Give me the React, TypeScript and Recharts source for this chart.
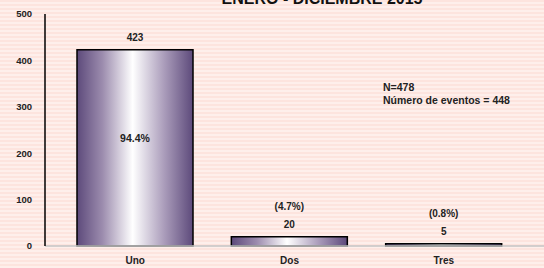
import { Bar, BarChart, LabelList, XAxis, YAxis } from "recharts";

const categories = ["Uno", "Dos", "Tres"];
const counts = [423, 20, 5];
const shares = ["94.4%", "(4.7%)", "(0.8%)"];
const yTicks = [0, 100, 200, 300, 400, 500];

const data = categories.map((name, i) => ({ name, value: counts[i] }));

const font = "'Liberation Sans', Arial, sans-serif";

function ValueLabel(props: any) {
  const { x, y, width, height, value, index } = props;
  const cx = x + width / 2;
  const top = y - 9;
  const inside = index === 0;
  return (
    <g fontFamily={font} fontWeight="bold" fill="#222" textAnchor="middle">
      <text x={cx} y={top} fontSize={10}>
        {value}
      </text>
      {inside ? (
        <text x={cx} y={y + height * 0.45 + 4} fontSize={10.5}>
          {shares[index]}
        </text>
      ) : (
        <text x={cx} y={top - 18} fontSize={10}>
          {shares[index]}
        </text>
      )}
    </g>
  );
}

export default function App() {
  return (
    <div
      style={{
        position: "absolute",
        left: 0,
        top: 0,
        width: 544,
        height: 268,
        overflow: "hidden",
        background: "repeating-linear-gradient(180deg, #fde4de 0px, #fde4de 2px, #feefeb 2px, #feefeb 4px)",
      }}
    >
      <BarChart width={544} height={268} data={data} margin={{ top: 14, right: 0, bottom: 0, left: 0 }}>
        <defs>
          <linearGradient id="barFill" x1="0" y1="0" x2="1" y2="0">
            <stop offset="0%" stopColor="#5d4a7b" />
            <stop offset="22%" stopColor="#9c8cae" />
            <stop offset="48%" stopColor="#ffffff" />
            <stop offset="75%" stopColor="#ab9dbb" />
            <stop offset="100%" stopColor="#5d4a7b" />
          </linearGradient>
        </defs>
        <text x={322} y={4} textAnchor="middle" fontFamily={font} fontWeight="bold" fontSize={16} fill="#111">
          ENERO - DICIEMBRE 2015
        </text>
        <XAxis
          dataKey="name"
          height={22}
          padding={{ left: 13, right: 23 }}
          tickLine={false}
          tickSize={0}
          tickMargin={11}
          axisLine={{ stroke: "#c4c4c4", strokeWidth: 1.5 }}
          tick={{ fontFamily: font, fontWeight: "bold", fontSize: 10, fill: "#222" }}
        />
        <YAxis
          width={45}
          domain={[0, 500]}
          ticks={yTicks}
          interval={0}
          tickLine={false}
          tickSize={0}
          tickMargin={13}
          axisLine={{ stroke: "#000", strokeWidth: 1.5 }}
          tick={{ fontFamily: font, fontWeight: "bold", fontSize: 9.5, fill: "#222" }}
        />
        <Bar dataKey="value" barSize={116} fill="url(#barFill)" stroke="#000" strokeWidth={1.5} isAnimationActive={false}>
          <LabelList dataKey="value" content={ValueLabel} />
        </Bar>
        <text x={383} y={91} fontFamily={font} fontWeight="bold" fontSize={10.5} fill="#222">
          N=478
        </text>
        <text x={383} y={104} fontFamily={font} fontWeight="bold" fontSize={10.5} fill="#222">
          Número de eventos = 448
        </text>
      </BarChart>
    </div>
  );
}
